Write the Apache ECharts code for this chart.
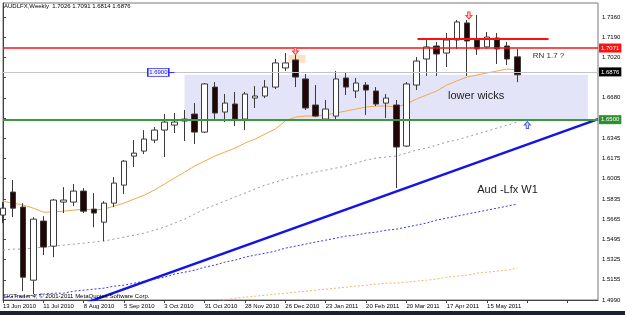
<!DOCTYPE html>
<html>
<head>
<meta charset="utf-8">
<script src="https://cdn.jsdelivr.net/npm/echarts@6/dist/echarts.min.js"></script>
<style>
    html, body {margin: 0; padding: 0; background: #fff;}
    #main {width: 625px; height: 315px;}
</style>
</head>
<body>
<div id="main"></div>
<script>
// weekly bars, index 0 = week of 13 Jun 2010; [open, close, low, high]
var candles = [
    [1.5701, 1.5759, 1.5634, 1.5810], [1.5894, 1.5759, 1.5684, 1.5994], [1.5768, 1.5181, 1.5064, 1.5801],
    [1.5156, 1.5667, 1.5039, 1.5684], [1.5651, 1.5433, 1.5366, 1.5692], [1.5441, 1.5827, 1.5349, 1.5835],
    [1.5810, 1.5827, 1.5718, 1.5935], [1.5810, 1.5902, 1.5776, 1.5961], [1.5902, 1.5734, 1.5718, 1.5927],
    [1.5751, 1.5718, 1.5600, 1.5885], [1.5642, 1.5801, 1.5483, 1.5818], [1.5801, 1.5969, 1.5768, 1.6019],
    [1.5952, 1.6153, 1.5877, 1.6162], [1.6195, 1.6220, 1.6103, 1.6329], [1.6237, 1.6338, 1.6212, 1.6413],
    [1.6329, 1.6413, 1.6304, 1.6438], [1.6413, 1.6480, 1.6187, 1.6547], [1.6455, 1.6480, 1.6388, 1.6556],
    [1.6489, 1.6505, 1.6321, 1.6581], [1.6547, 1.6396, 1.6296, 1.6639], [1.6396, 1.6799, 1.6388, 1.6807],
    [1.6773, 1.6556, 1.6497, 1.6815], [1.6564, 1.6639, 1.6480, 1.6715], [1.6631, 1.6505, 1.6447, 1.6732],
    [1.6505, 1.6715, 1.6413, 1.6732], [1.6681, 1.6698, 1.6598, 1.6782], [1.6698, 1.6773, 1.6681, 1.6832],
    [1.6773, 1.6975, 1.6757, 1.7008], [1.6933, 1.6975, 1.6908, 1.7058], [1.7000, 1.6857, 1.6773, 1.7058],
    [1.6841, 1.6598, 1.6581, 1.6882], [1.6623, 1.6530, 1.6522, 1.6790], [1.6505, 1.6589, 1.6497, 1.6665],
    [1.6530, 1.6841, 1.6497, 1.6908], [1.6849, 1.6773, 1.6706, 1.6899], [1.6740, 1.6807, 1.6681, 1.6849],
    [1.6790, 1.6748, 1.6539, 1.6815], [1.6740, 1.6631, 1.6614, 1.6773], [1.6639, 1.6681, 1.6514, 1.6715],
    [1.6623, 1.6271, 1.5927, 1.6665], [1.6279, 1.6799, 1.6271, 1.6815], [1.6790, 1.6991, 1.6748, 1.7025],
    [1.7008, 1.7109, 1.6866, 1.7167], [1.7117, 1.7050, 1.6866, 1.7151], [1.7058, 1.7167, 1.6941, 1.7226],
    [1.7167, 1.7318, 1.7092, 1.7335], [1.7310, 1.7159, 1.6866, 1.7335], [1.7167, 1.7092, 1.7042, 1.7377],
    [1.7109, 1.7192, 1.7092, 1.7234], [1.7184, 1.7092, 1.6966, 1.7226], [1.7117, 1.7008, 1.6958, 1.7151],
    [1.7026, 1.6876, 1.6814, 1.7091]
];

// moving averages, one value per week
var maFast = [
    1.5818, 1.5801, 1.5785, 1.5759, 1.5726, 1.5726, 1.5734, 1.5743, 1.5751, 1.5743,
    1.5751, 1.5776, 1.5801, 1.5835, 1.5868, 1.5910, 1.5961, 1.6011, 1.6061, 1.6111,
    1.6153, 1.6195, 1.6229, 1.6262, 1.6304, 1.6338, 1.6380, 1.6421, 1.6489, 1.6522,
    1.6530, 1.6530, 1.6539, 1.6556, 1.6572, 1.6589, 1.6606, 1.6614, 1.6614, 1.6606,
    1.6631, 1.6673, 1.6706, 1.6740, 1.6790, 1.6824, 1.6857, 1.6874, 1.6891, 1.6908,
    1.6924, 1.6916
];
var maGray = [
    1.5408, 1.5416, 1.5416, 1.5424, 1.5433, 1.5441, 1.5449, 1.5458, 1.5466, 1.5475,
    1.5483, 1.5500, 1.5517, 1.5533, 1.5550, 1.5575, 1.5600, 1.5634, 1.5667, 1.5709,
    1.5751, 1.5785, 1.5818, 1.5852, 1.5885, 1.5919, 1.5952, 1.5977, 1.6003, 1.6028,
    1.6044, 1.6061, 1.6078, 1.6095, 1.6111, 1.6137, 1.6162, 1.6178, 1.6187, 1.6195,
    1.6220, 1.6245, 1.6262, 1.6287, 1.6313, 1.6329, 1.6354, 1.6380, 1.6405, 1.6430,
    1.6455, 1.6480
];
var maBlue = [
    1.5014, 1.5022, 1.5022, 1.5030, 1.5039, 1.5047, 1.5047, 1.5064, 1.5072, 1.5081,
    1.5089, 1.5106, 1.5114, 1.5131, 1.5148, 1.5165, 1.5181, 1.5206, 1.5223, 1.5240,
    1.5265, 1.5282, 1.5307, 1.5324, 1.5349, 1.5366, 1.5382, 1.5399, 1.5424, 1.5441,
    1.5458, 1.5475, 1.5491, 1.5508, 1.5525, 1.5533, 1.5550, 1.5558, 1.5575, 1.5583,
    1.5600, 1.5617, 1.5634, 1.5659, 1.5676, 1.5692, 1.5709, 1.5726, 1.5743, 1.5759,
    1.5776, 1.5793
];
var maSlow = [
    null, null, null, null, null, null, null, null, null, null,
    null, null, null, null, null, null, null, null, null, null,
    null, 1.4972, 1.4989, 1.5005, 1.5014, 1.5022, 1.5030, 1.5039, 1.5047, 1.5055,
    1.5064, 1.5072, 1.5081, 1.5089, 1.5097, 1.5106, 1.5114, 1.5123, 1.5131, 1.5131,
    1.5139, 1.5148, 1.5156, 1.5165, 1.5181, 1.5190, 1.5198, 1.5215, 1.5223, 1.5232,
    1.5240, 1.5257
];

// date labels every 4 weeks
var xTickLabels = ['13 Jun 2010', '11 Jul 2010', '8 Aug 2010', '5 Sep 2010', '3 Oct 2010', '31 Oct 2010',
    '28 Nov 2010', '26 Dec 2010', '23 Jan 2011', '20 Feb 2011', '20 Mar 2011', '17 Apr 2011', '15 May 2011'];
// price scale labels from bottom up (two are hidden under the level boxes)
var yTickLabels = ['1.4990', '1.5155', '1.5325', '1.5495', '1.5665', '1.5835', '1.6005', '1.6175',
    '1.6345', '', '1.6680', '', '1.7020', '1.7190', '1.7360'];

var yMin = 1.4990, yMax = 1.7477, yStep = (1.7360 - 1.4990) / 14;
var xMax = 59;

var lvlRed = 1.7071, lvlBid = 1.6876, lvlGreen = 1.6500, lvlTop = 1.7175;
var trendLine = [[8.4, 1.4972], [59, 1.6505]];
var zoneBox = [[18, 1.6876], [58, 1.6500]];
var peachBox = [[28.3, 1.7042], [30.0, 1.6975]];

var font = "'Liberation Sans', Arial, sans-serif";
var downArrow = 'path://M3,0 L7,0 L7,5 L10,5 L5,10 L0,5 L3,5 Z';
var upArrow = 'path://M5,0 L10,5 L7,5 L7,10 L3,10 L3,5 L0,5 Z';

function pairs(arr) {
    return arr.map(function (v, i) { return [i, v]; });
}

var chart = echarts.init(document.getElementById('main'));

var option = {
    animation: false,
    backgroundColor: '#fff',
    title: [
        {
            text: 'AUDLFX,Weekly  1.7026 1.7091 1.6814 1.6876',
            left: 4, top: 3, padding: 0,
            textStyle: {fontSize: 6, fontWeight: 'normal', color: '#000', fontFamily: font}
        },
        {
            text: 'SIGTrader 4, \u00a9 2001-2011 MetaQuotes Software Corp.',
            left: 3, top: 293, padding: 0,
            textStyle: {fontSize: 6, fontWeight: 'normal', color: '#000', fontFamily: font}
        }
    ],
    grid: {
        left: 3, right: 27, top: 3, bottom: 15,
        show: true, borderColor: '#777', borderWidth: 1, backgroundColor: '#fff'
    },
    xAxis: {
        type: 'value',
        min: 0, max: xMax, interval: 4,
        splitLine: {show: false},
        axisLine: {lineStyle: {color: '#444', width: 1}},
        axisTick: {length: 3, lineStyle: {color: '#444'}},
        axisLabel: {
            showMaxLabel: false,
            align: 'left', margin: 3,
            fontSize: 6, color: '#000', fontFamily: font,
            formatter: function (v) {
                return (v % 4 === 0 && xTickLabels[v / 4]) || '';
            }
        }
    },
    yAxis: {
        type: 'value', position: 'right',
        min: yMin, max: yMax, interval: yStep,
        splitLine: {show: false},
        axisLine: {show: true, lineStyle: {color: '#444', width: 1}},
        axisTick: {show: true, length: 3, lineStyle: {color: '#444'}},
        axisLabel: {
            showMaxLabel: false,
            margin: 4, fontSize: 6, color: '#000', fontFamily: font,
            formatter: function (v) {
                var i = Math.round((v - yMin) / yStep);
                if (Math.abs(v - (yMin + i * yStep)) > 1e-6) return '';
                return yTickLabels[i] || '';
            }
        }
    },
    series: [
        {
            // shaded zones behind the bars
            type: 'line', data: [], z: 0,
            markArea: {
                silent: true,
                data: [
                    [{coord: zoneBox[0], itemStyle: {color: '#e4e4f9'}}, {coord: zoneBox[1]}],
                    [{coord: peachBox[0], itemStyle: {color: '#fde2c6'}}, {coord: peachBox[1]}]
                ]
            }
        },
        {
            name: 'maFast', type: 'line', data: pairs(maFast), symbol: 'none', z: 2,
            lineStyle: {color: '#f5a748', width: 1}
        },
        {
            name: 'maGray', type: 'line', data: pairs(maGray), symbol: 'none', z: 2,
            lineStyle: {color: '#9a9a9a', width: 1, type: [2, 3]}
        },
        {
            name: 'maBlue', type: 'line', data: pairs(maBlue), symbol: 'none', z: 2,
            lineStyle: {color: '#3a3af0', width: 1, type: [2, 2]}
        },
        {
            name: 'maSlow', type: 'line', data: pairs(maSlow), symbol: 'none', z: 2,
            lineStyle: {color: '#f7b36a', width: 1, type: [2, 2]}
        },
        {
            name: 'trend', type: 'line', data: trendLine, symbol: 'none', z: 3,
            lineStyle: {color: '#1414e6', width: 2.5}
        },
        {
            name: 'AUDLFX', type: 'candlestick', z: 4, clip: false,
            data: candles.map(function (c, i) { return [i].concat(c); }),
            encode: {x: 0, y: [1, 2, 3, 4]},
            barWidth: 6,
            itemStyle: {
                color: '#fff', color0: '#220606',
                borderColor: '#3a3a3a', borderColor0: '#3a3a3a', borderWidth: 1
            }
        },
        {
            // price levels, labels and arrows
            type: 'line', data: [], z: 6,
            markLine: {
                silent: true, symbol: 'none',
                label: {
                    position: 'end', distance: 1, fontSize: 6, fontFamily: font,
                    color: '#fff', padding: [2, 2, 1, 2]
                },
                data: [
                    {yAxis: lvlBid, lineStyle: {color: '#c4c4c4', width: 1, type: 'solid'},
                        label: {formatter: '1.6876', backgroundColor: '#000'}},
                    {yAxis: lvlRed, lineStyle: {color: '#ff1010', width: 1.5, type: 'solid'},
                        label: {formatter: '1.7071', backgroundColor: '#ff1010'}},
                    {yAxis: lvlGreen, lineStyle: {color: '#3a9a3a', width: 2, type: 'solid'},
                        label: {formatter: '1.6500', backgroundColor: '#2f8f2f'}},
                    [{coord: [41.1, lvlTop], lineStyle: {color: '#ff1010', width: 2, type: 'solid'}, label: {show: false}},
                        {coord: [54.1, lvlTop]}],
                    [{coord: [16.4, 1.6896], lineStyle: {color: '#3030ff', width: 1, type: 'solid'}, label: {show: false}},
                        {coord: [17.0, 1.6896]}]
                ]
            },
            markPoint: {
                silent: true,
                data: [
                    {coord: [15.4, 1.6896], symbol: 'rect', symbolSize: [21, 8],
                        itemStyle: {color: '#f2f2ff', borderColor: '#3030ff', borderWidth: 1},
                        label: {show: true, position: 'inside', formatter: '1.6900', fontSize: 6,
                            color: '#2020c0', fontFamily: font}},
                    {coord: [29, 1.7074], symbol: downArrow, symbolSize: [6, 7],
                        itemStyle: {color: '#ffd0d0', borderColor: '#ff4040', borderWidth: 1}, label: {show: false}},
                    {coord: [46.2, 1.7373], symbol: downArrow, symbolSize: [6, 7],
                        itemStyle: {color: '#ffd0d0', borderColor: '#ff4040', borderWidth: 1}, label: {show: false}},
                    {coord: [52.0, 1.6455], symbol: upArrow, symbolSize: [6, 7],
                        itemStyle: {color: '#e0e0ff', borderColor: '#5050f0', borderWidth: 1}, label: {show: false}},
                    {coord: [52.5, 1.7029], symbolSize: 1, itemStyle: {color: 'rgba(0,0,0,0)'},
                        label: {show: true, position: 'right', distance: 0, formatter: 'RN 1.7 ?',
                            fontSize: 8, color: '#333', fontFamily: font}},
                    {coord: [44.1, 1.6698], symbolSize: 1, itemStyle: {color: 'rgba(0,0,0,0)'},
                        label: {show: true, position: 'right', distance: 0, formatter: 'lower wicks',
                            fontSize: 11, color: '#222', fontFamily: font}},
                    {coord: [47.0, 1.5910], symbolSize: 1, itemStyle: {color: 'rgba(0,0,0,0)'},
                        label: {show: true, position: 'right', distance: 0, formatter: 'Aud -Lfx W1',
                            fontSize: 11, color: '#222', fontFamily: font}}
                ]
            }
        }
    ],
    graphic: [
        {type: 'rect', shape: {x: 0, y: 311, width: 625, height: 4}, style: {fill: '#1b2033'}, silent: true}
    ]
};

chart.setOption(option);
</script>
</body>
</html>
